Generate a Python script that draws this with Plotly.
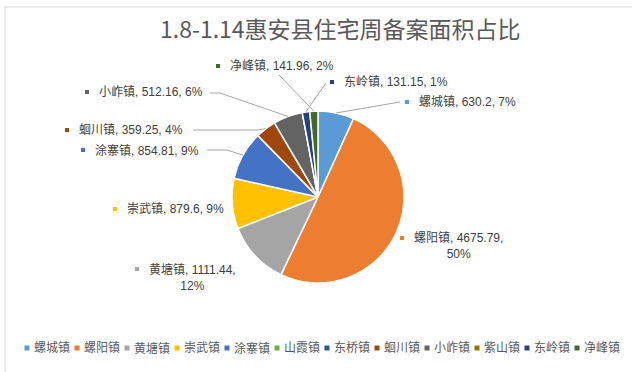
import math
import plotly.graph_objects as go

# ---- data ----
towns = ["螺城镇", "螺阳镇", "黄塘镇", "崇武镇", "涂寨镇", "山霞镇",
         "东桥镇", "蛔川镇", "小岞镇", "紫山镇", "东岭镇", "净峰镇"]
areas = [630.2, 4675.79, 1111.44, 879.6, 854.81, 0,
         0, 359.25, 512.16, 0, 131.15, 141.96]
title_text = "1.8-1.14惠安县住宅周备案面积占比"

# ---- style ----
colors = ["#5B9BD5", "#ED7D31", "#A5A5A5", "#FFC000", "#4472C4", "#70AD47",
          "#255E91", "#9E480E", "#636363", "#997300", "#264478", "#43682B"]
W, H = 632, 372
CX, CY, R = 318, 197, 86
FONT = "Liberation Sans, Arial, Noto Sans CJK SC"

def px(x):
    return x / W

def py(y):
    return 1 - y / H

# label layout: marker (x,y), leader path points, two-line wrap
label_layout = {
    "螺城镇": dict(m=(407, 102), path=[(400, 102)], wrap=False),
    "螺阳镇": dict(m=(402, 238), path=None, wrap=True),
    "黄塘镇": dict(m=(137, 269), path=None, wrap=True),
    "崇武镇": dict(m=(115, 209), path=None, wrap=False),
    "涂寨镇": dict(m=(83, 150), path=[(227, 150), (207, 150)], wrap=False),
    "蛔川镇": dict(m=(67, 130), path=[(258, 130), (193, 130)], wrap=False),
    "小岞镇": dict(m=(87, 92), path=[(220, 93), (210, 93)], wrap=False),
    "净峰镇": dict(m=(218, 66), path=[(279, 75)], wrap=False),
    "东岭镇": dict(m=(332, 82), path=[(326, 83)], wrap=False),
}

fig = go.Figure(go.Pie(
    labels=towns, values=areas, sort=False, direction="clockwise",
    marker=dict(colors=colors, line=dict(color="white", width=1.5)),
    textinfo="none", hoverinfo="label+value+percent", showlegend=False,
    domain=dict(x=[px(CX - R), px(CX + R)], y=[py(CY + R), py(CY - R)]),
))

shapes = []
annotations = []

# chart border
shapes.append(dict(type="rect", xref="paper", yref="paper",
                   x0=px(5), x1=px(W + 2), y0=py(H + 2), y1=py(7),
                   line=dict(color="#D9D9D9", width=1), fillcolor="rgba(0,0,0,0)"))

# title
annotations.append(dict(text=title_text, x=px(340), y=py(28), xref="paper", yref="paper",
                        xanchor="center", yanchor="middle", showarrow=False,
                        font=dict(family="Noto Sans CJK SC", size=23, color="#595959")))

total = sum(areas)
cum = 0.0
for name, v, c in zip(towns, areas, colors):
    mid = cum + v / 2
    cum += v
    if v <= 0 or name not in label_layout:
        continue
    ang = math.radians(90 - 360 * mid / total)
    ex, ey = CX + R * math.cos(ang), CY - R * math.sin(ang)
    lay = label_layout[name]
    pct = round(v / total * 100)
    if lay["wrap"]:
        txt = f"{name}, {v:g},<br>{pct}%"
    else:
        txt = f"{name}, {v:g}, {pct}%"
    mx, my = lay["m"]
    shapes.append(dict(type="rect", xref="paper", yref="paper",
                       x0=px(mx - 2), x1=px(mx + 2), y0=py(my + 2), y1=py(my - 2),
                       line=dict(width=0), fillcolor=c))
    if lay["wrap"]:
        annotations.append(dict(text=txt, x=px(mx + 10), y=py(my - 9), xref="paper", yref="paper",
                                xanchor="left", yanchor="top", align="center", showarrow=False,
                                font=dict(family=FONT, size=12, color="#404040")))
    else:
        annotations.append(dict(text=txt, x=px(mx + 10), y=py(my), xref="paper", yref="paper",
                                xanchor="left", yanchor="middle", showarrow=False,
                                font=dict(family=FONT, size=12, color="#404040")))
    if lay["path"]:
        pts = [(ex, ey)] + lay["path"]
        for (x0, y0), (x1, y1) in zip(pts[:-1], pts[1:]):
            shapes.append(dict(type="line", xref="paper", yref="paper",
                               x0=px(x0), y0=py(y0), x1=px(x1), y1=py(y1),
                               line=dict(color="#A6A6A6", width=1)))

# legend (manual, single row)
LX0, LSTEP, LY = 27, 50, 348
for i, (name, c) in enumerate(zip(towns, colors)):
    mx = LX0 + i * LSTEP
    shapes.append(dict(type="rect", xref="paper", yref="paper",
                       x0=px(mx - 2.5), x1=px(mx + 2.5), y0=py(LY + 2.5), y1=py(LY - 2.5),
                       line=dict(width=0), fillcolor=c))
    annotations.append(dict(text=name, x=px(mx + 5), y=py(LY), xref="paper", yref="paper",
                            xanchor="left", yanchor="middle", showarrow=False,
                            font=dict(family=FONT, size=12, color="#595959")))

fig.update_layout(
    width=W, height=H, margin=dict(l=0, r=0, t=0, b=0),
    paper_bgcolor="white", plot_bgcolor="white",
    shapes=shapes, annotations=annotations, showlegend=False,
)

fig.write_html("out.html")
